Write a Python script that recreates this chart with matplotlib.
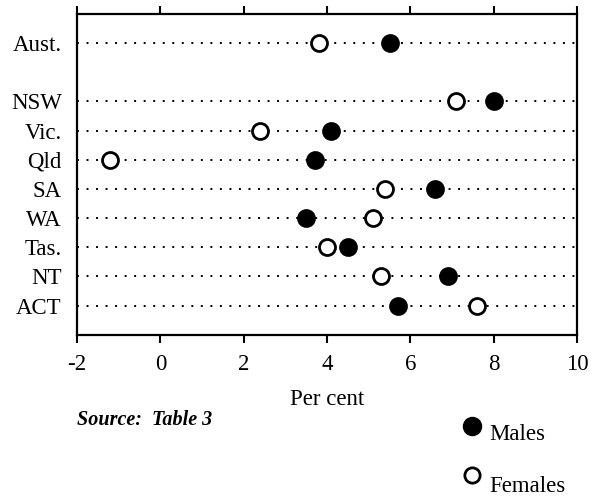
import matplotlib
matplotlib.use("Agg")
import matplotlib.pyplot as plt

states = ["Aust.", "NSW", "Vic.", "Qld", "SA", "WA", "Tas.", "NT", "ACT"]
males = [5.5, 8.0, 4.1, 3.7, 6.6, 3.5, 4.5, 6.9, 5.7]
females = [3.8, 7.1, 2.4, -1.2, 5.4, 5.1, 4.0, 5.3, 7.6]
xticks = [-2, 0, 2, 4, 6, 8, 10]

plt.rcParams['font.family'] = ['Liberation Serif', 'DejaVu Serif']

fig = plt.figure(figsize=(5.93, 4.99), dpi=100)
ax = fig.add_axes([0.130, 0.329, 0.843, 0.643])

ypos = [0] + list(range(2, 2 + len(states) - 1))
for y, m, f in zip(ypos, males, females):
    ax.plot([-2, 10], [y, y], color='black', linestyle=(0, (1, 3.9)), lw=1.4, zorder=1)
    ax.plot([f], [y], 'o', ms=11.5, mfc='white', mec='black', mew=2, zorder=3)
    ax.plot([m], [y], 'o', ms=11.5, mfc='black', mec='black', mew=2, zorder=3)

ax.set_xlim(-2, 10)
ax.set_ylim(10, -1)
ax.set_yticks(ypos)
ax.set_yticklabels(states, fontsize=16.5)
ax.tick_params(axis='y', length=0, pad=11)
ax.set_xticks(xticks)
ax.set_xticklabels([str(v) for v in xticks], fontsize=16.5)
ax.tick_params(axis='x', top=True, bottom=True, direction='out', length=6, width=1.5, pad=8)
for s in ax.spines.values():
    s.set_linewidth(1.6)
ax.set_xlabel("Per cent", fontsize=16.5, labelpad=10)

fig.text(77/593, 1 - 420/499, "Source:  Table 3", fontsize=14.5, style='italic',
         weight='bold', va='center', ha='left')

fig.lines.append(plt.Line2D([472/593], [1 - 426/499], marker='o', ms=12, mfc='black',
                            mec='black', mew=2, transform=fig.transFigure))
fig.lines.append(plt.Line2D([472/593], [1 - 475/499], marker='o', ms=11, mfc='white',
                            mec='black', mew=2, transform=fig.transFigure))
fig.text(489/593, 1 - 435/499, "Males", fontsize=16.5, va='center', ha='left')
fig.text(489/593, 1 - 486/499, "Females", fontsize=16.5, va='center', ha='left')

fig.savefig("out.png", dpi=100)
